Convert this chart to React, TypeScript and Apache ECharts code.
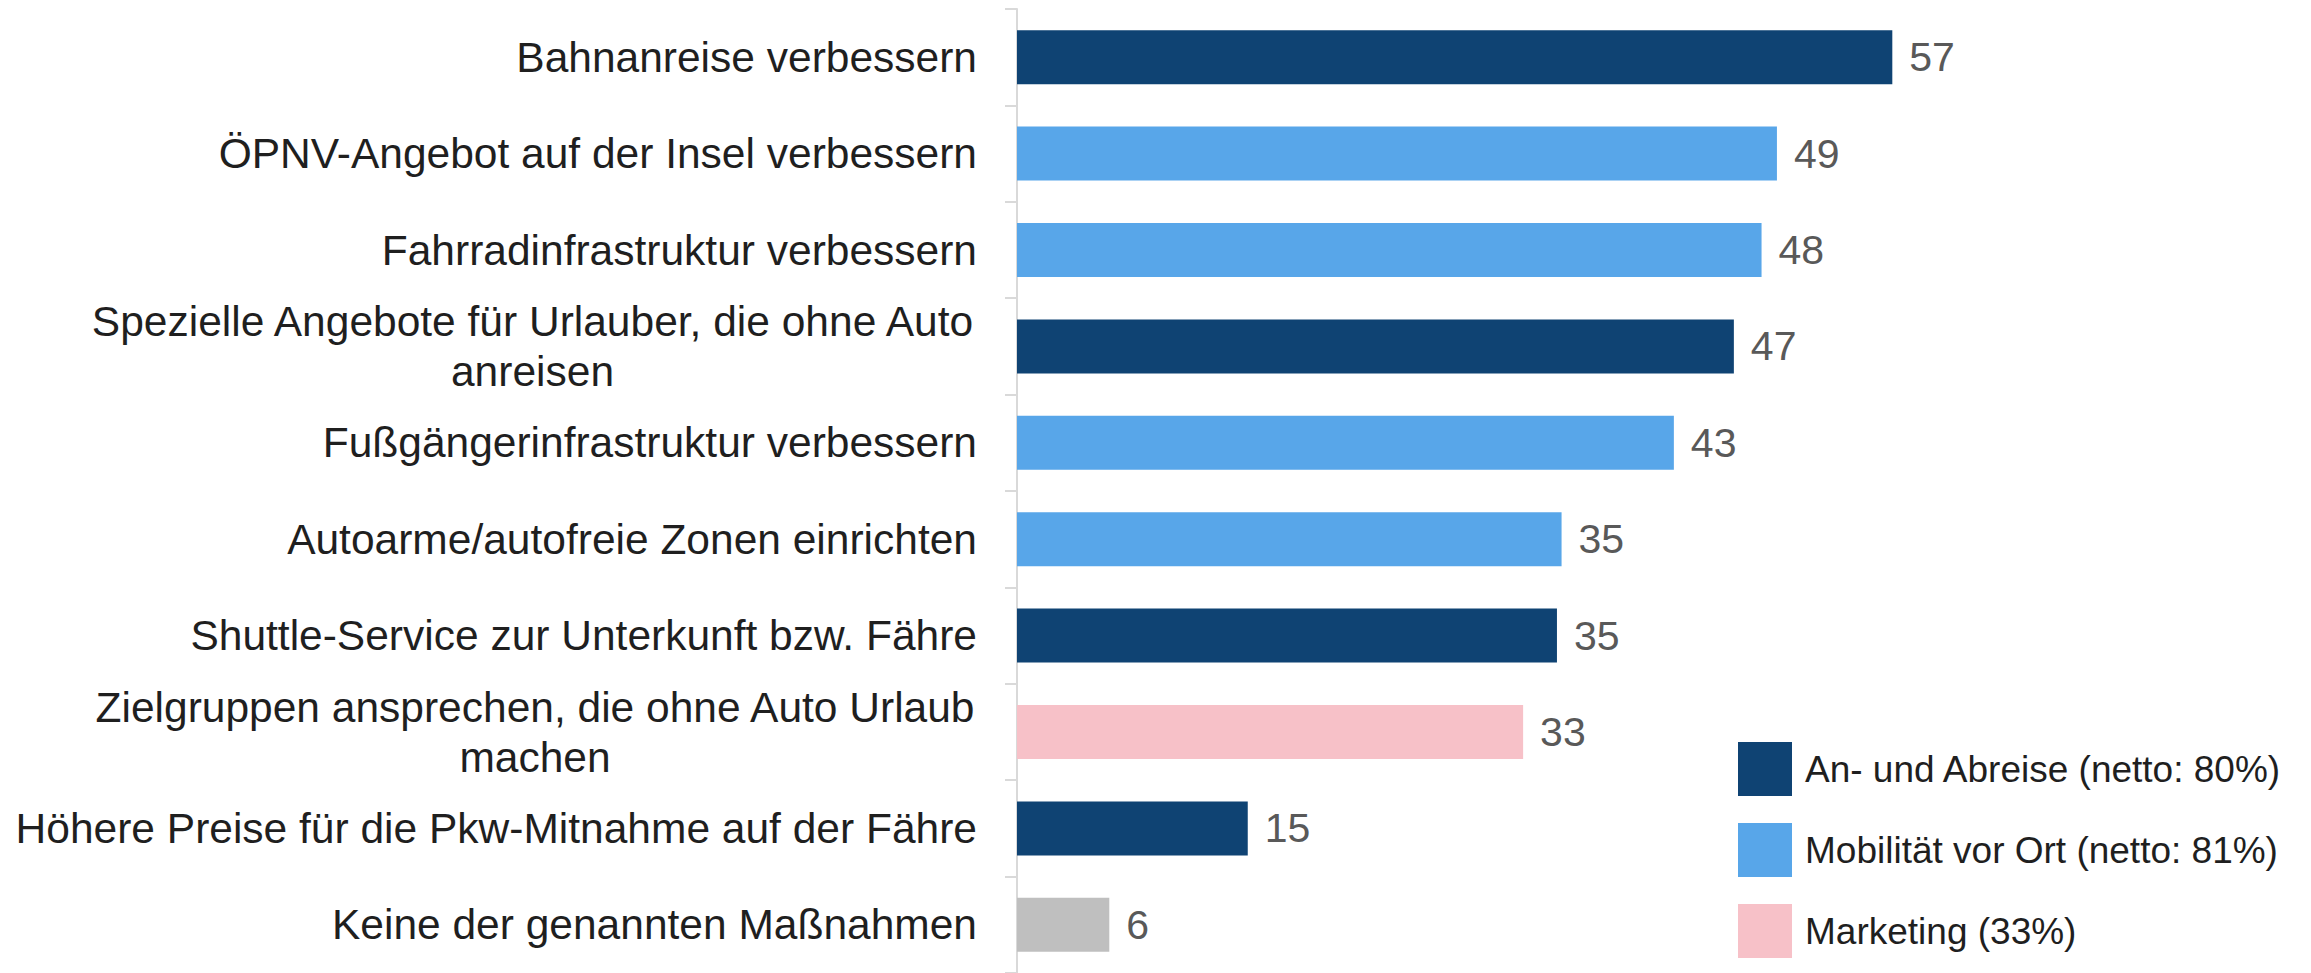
import React, { useEffect, useRef } from "react";
import * as echarts from "echarts";

const categories = [
  "Bahnanreise verbessern",
  "ÖPNV-Angebot auf der Insel verbessern",
  "Fahrradinfrastruktur verbessern",
  "Spezielle Angebote für Urlauber, die ohne Auto\nanreisen",
  "Fußgängerinfrastruktur verbessern",
  "Autoarme/autofreie Zonen einrichten",
  "Shuttle-Service zur Unterkunft bzw. Fähre",
  "Zielgruppen ansprechen, die ohne Auto Urlaub\nmachen",
  "Höhere Preise für die Pkw-Mitnahme auf der Fähre",
  "Keine der genannten Maßnahmen",
];
const values = [56.9, 49.4, 48.4, 46.6, 42.7, 35.4, 35.1, 32.9, 15, 6];
const groupOf = ["an", "mob", "mob", "an", "mob", "mob", "an", "mkt", "an", "none"];
const groupKeys = ["an", "mob", "mkt", "none"];
const groupNames = [
  "An- und Abreise (netto: 80%)",
  "Mobilität vor Ort (netto: 81%)",
  "Marketing (33%)",
  "Keine",
];
const groupColors = ["#0F4373", "#58A6E9", "#F7C1C8", "#BFBFBF"];
const legendNames = groupNames.slice(0, 3);

const FONT = '"Liberation Sans", Arial, sans-serif';
const LABEL_SIZE = 42.5;

export default function App() {
  const ref = useRef<HTMLDivElement>(null);
  useEffect(() => {
    document.body.style.margin = "0";
    const chart = echarts.init(ref.current!, undefined, { renderer: "svg" });

    const canvas = document.createElement("canvas");
    const ctx = canvas.getContext("2d")!;
    ctx.font = `${LABEL_SIZE}px ${FONT}`;
    const rich: Record<string, any> = {};
    categories.forEach((c, i) => {
      const lines = c.split("\n");
      const w = Math.max(...lines.map((l) => ctx.measureText(l).width));
      rich["r" + i] = {
        width: Math.ceil(w) + 2,
        align: "center",
        fontSize: LABEL_SIZE,
        fontFamily: FONT,
        color: "#1f1f1f",
        lineHeight: 50,
      };
    });

    const series = groupKeys.map((g, gi) => ({
      name: groupNames[gi],
      type: "bar",
      stack: "total",
      barWidth: 54,
      itemStyle: { color: groupColors[gi] },
      label: {
        show: true,
        position: "right",
        distance: 17,
        fontSize: 41,
        fontFamily: FONT,
        color: "#595959",
        formatter: (p: any) => String(Math.round(p.value)),
      },
      data: values.map((v, i) => (groupOf[i] === g ? v : "-")),
    }));

    chart.setOption({
      animation: false,
      grid: { left: 1017, top: 9, width: 923, height: 967 },
      xAxis: {
        type: "value",
        min: 0,
        max: 60,
        show: false,
        splitLine: { show: false },
      },
      yAxis: {
        type: "category",
        inverse: true,
        data: categories,
        axisLine: { show: true, lineStyle: { color: "#D9D9D9", width: 2 } },
        axisTick: { show: true, length: 12, lineStyle: { color: "#D9D9D9", width: 2 } },
        axisLabel: {
          margin: 40,
          fontSize: LABEL_SIZE,
          fontFamily: FONT,
          color: "#1f1f1f",
          lineHeight: 50,
          rich,
          formatter: (value: string, index: number) => {
            const lines = value.split("\n");
            if (lines.length === 1) return value;
            return lines.map((l) => `{r${index}|${l}}`).join("\n");
          },
        },
      },
      legend: {
        data: legendNames,
        orient: "vertical",
        left: 1733,
        top: 737,
        itemWidth: 54,
        itemHeight: 54,
        itemGap: 27,
        icon: "rect",
        selectedMode: false,
        textStyle: {
          fontSize: 37,
          fontFamily: FONT,
          color: "#1f1f1f",
          padding: [0, 0, 0, 8],
        },
      },
      series,
    });
    return () => chart.dispose();
  }, []);
  return <div ref={ref} style={{ width: 2311, height: 973 }} />;
}
